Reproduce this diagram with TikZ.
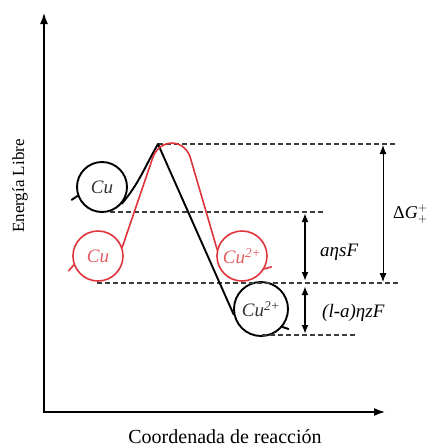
\documentclass[tikz,border=0pt]{standalone}
\usepackage{fontspec}
\setmainfont{Liberation Serif}
\usepackage{tikz}
\usetikzlibrary{arrows.meta}
\definecolor{profred}{RGB}{222,52,60}
\definecolor{levelgray}{RGB}{60,60,60}
\tikzset{
  axis/.style={-{Latex[length=12pt,width=8pt]},line width=2.4pt},
  ion/.style={circle,draw=black,line width=1.9pt,minimum size=50pt,inner sep=0pt,
    font=\fontsize{19}{19}\selectfont\itshape,text=black!80},
  redion/.style={ion,draw=profred,line width=1.6pt,text=profred!80},
  blackpath/.style={line width=1.9pt,line join=round,line cap=round},
  redpath/.style={line width=1.6pt,draw=profred,line join=round,line cap=round},
  level/.style={dash pattern=on 4.5pt off 3.5pt,line width=1.2pt,levelgray},
  gap/.style={{Latex[length=9pt,width=7pt]}-{Latex[length=9pt,width=7pt]},line width=1.8pt},
  biggap/.style={{Latex[length=9pt,width=7pt]}-{Latex[length=9pt,width=7pt]},line width=1pt},
  gaplabel/.style={font=\fontsize{19}{19}\selectfont\itshape,anchor=west,inner sep=0pt}
}

\begin{document}
\begin{tikzpicture}[x=1pt,y=-1pt]
  \useasboundingbox (0,0) rectangle (432,448);

  % axes
  \coordinate (origin) at (44,412);
  \coordinate (ytip) at (44,12);
  \coordinate (xtip) at (386,412);
  \draw[axis] (origin) -- (ytip);
  \draw[axis] ([xshift=-1.2pt]origin) -- (xtip);
  \node[font=\fontsize{20}{20}\selectfont] (xlabel) at (225,437) {Coordenada de reacción};
  \node[font=\fontsize{17}{17}\selectfont,rotate=90] (ylabel) at (20,186) {Energía Libre};

  % ions
  \node[ion]    (cuB)  at (102,187) {Cu};
  \node[ion,minimum size=54pt] (cuBB) at (261,309) {Cu\textsuperscript{2+}};
  \node[redion] (cuR)  at (98,256)  {Cu};
  \node[redion] (cuRR) at (242,256) {Cu\textsuperscript{2+}};
  \coordinate (peakB) at (158,144);

  % energy levels
  \coordinate (lvlA) at (395,144);
  \coordinate (lvlB0) at (110,212);
  \coordinate (lvlB) at (325,212);
  \coordinate (lvlC0) at (97,283);
  \coordinate (lvlC) at (398,283);
  \coordinate (lvlD0) at (262,335);
  \coordinate (lvlD) at (356,335);
  \draw[level] (peakB) -- (lvlA);
  \draw[level] (lvlB0) -- (lvlB);
  \draw[level] (lvlC0) -- (lvlC);
  \draw[level] (lvlD0) -- (lvlD);

  % black profile
  \draw[blackpath] (cuB.200) -- ++(-6,4);
  \draw[blackpath] (cuB.-40) to[out=50,in=240] (peakB) -- (cuBB.191);
  \draw[blackpath] (cuBB.-40) -- ++(6,2);

  % red profile
  \draw[redpath] (cuR.200) -- ++(-5,6);
  \draw[redpath] (cuR.20) -- (153,157) .. controls (160,138) and (186,138) .. (191,160) -- (cuRR.165);
  \draw[redpath] (cuRR.-30) -- ++(7,-2);

  % gaps
  \coordinate (dGtop) at (383,145);
  \coordinate (dGbot) at (383,282);
  \coordinate (anTop) at (305,213);
  \coordinate (anBot) at (305,281);
  \coordinate (azTop) at (305,286);
  \coordinate (azBot) at (305,334);
  \draw[biggap] (dGtop) -- (dGbot);
  \draw[gap] (anTop) -- (anBot);
  \draw[gap] (azTop) -- (azBot);
  \node[gaplabel,font=\fontsize{18}{18}\selectfont] (dGlabel) at (393,214) {Δ\textit{G}$^{+}_{+}$};
  \node[gaplabel] (anlabel) at (320,252) {aηsF};
  \node[gaplabel] (azlabel) at (322,313) {(l-a)ηzF};
\end{tikzpicture}
\end{document}
